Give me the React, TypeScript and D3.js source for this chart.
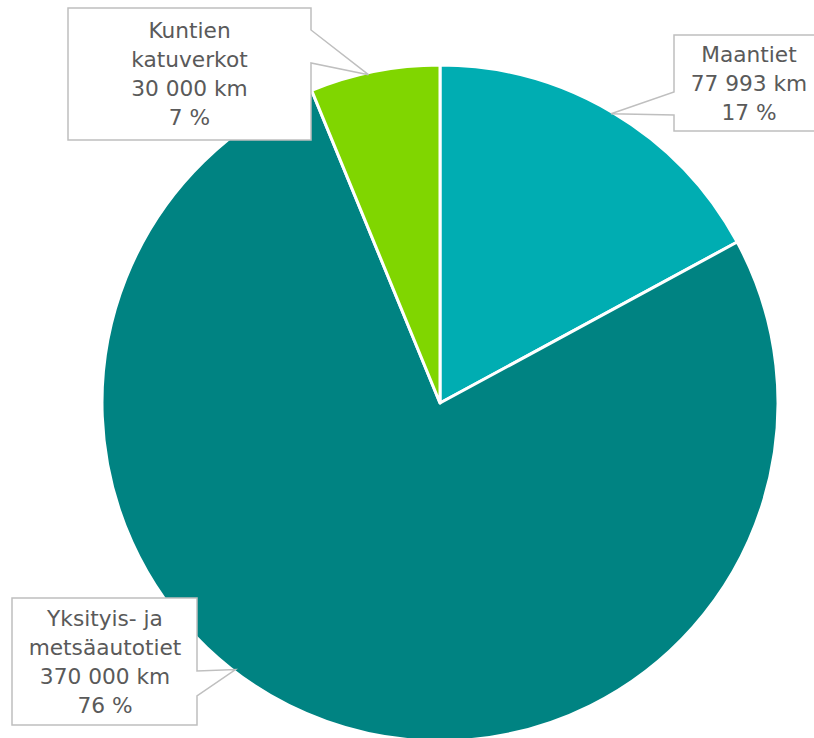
import * as d3 from "d3";
import React, { useEffect, useRef } from "react";

// slice shares (degrees of the pie / 3.6)
const categories = ["Maantiet", "Yksityis- ja metsäautotiet", "Kuntien katuverkot"];
const shares = [17.1, 76.7, 6.2];
const labelLines = [
  ["Maantiet", "77 993 km", "17 %"],
  ["Yksityis- ja", "metsäautotiet", "370 000 km", "76 %"],
  ["Kuntien", "katuverkot", "30 000 km", "7 %"],
];
const colors = ["#00adb2", "#008382", "#80d600"];

const W = 814;
const H = 738;
const cx = 440;
const cy = 403;
const R = 338;

// callout boxes: [x0, y0, x1, y1], pointer side, pointer y range, tip angle (deg from top)
const boxes = [
  { box: [674, 35, 824, 131], side: "left", py: [92, 115], tipAngle: 30.6, tx: 749 },
  { box: [12, 598, 197, 725], side: "right", py: [671, 696], tipAngle: 217.5, tx: 105 },
  { box: [68, 8, 311, 140], side: "right", py: [30, 63], tipAngle: 347.7, tx: 189.5 },
];

const App = () => {
  const ref = useRef<SVGSVGElement>(null);

  useEffect(() => {
    const svg = d3.select(ref.current);
    svg.selectAll("*").remove();

    const pie = d3.pie<number>().sort(null).value((d) => d);
    const arcs = pie(shares);
    const arc = d3.arc<d3.PieArcDatum<number>>().innerRadius(0).outerRadius(R);

    const g = svg.append("g").attr("transform", `translate(${cx},${cy})`);
    g.selectAll("path")
      .data(arcs)
      .enter()
      .append("path")
      .attr("d", arc)
      .attr("fill", (d, i) => colors[i])
      .attr("stroke", "#fff")
      .attr("stroke-width", 3)
      .attr("stroke-linejoin", "round");

    boxes.forEach((b, i) => {
      const a = (b.tipAngle * Math.PI) / 180;
      const tx = cx + (R - 2) * Math.sin(a);
      const ty = cy - (R - 2) * Math.cos(a);
      const [x0, y0, x1, y1] = b.box;
      let p = "";
      if (b.side === "right") {
        p = `M${x0},${y0}H${x1}V${b.py[0]}L${tx},${ty}L${x1},${b.py[1]}V${y1}H${x0}Z`;
      } else {
        p = `M${x0},${y0}H${x1}V${y1}H${x0}V${b.py[1]}L${tx},${ty}L${x0},${b.py[0]}Z`;
      }
      svg.append("path")
        .attr("d", p)
        .attr("fill", "#fff")
        .attr("stroke", "#bfbfbf")
        .attr("stroke-width", 1.5);

      const lines = labelLines[i];
      const lh = 29;
      const midY = (y0 + y1) / 2;
      const t = svg.append("text")
        .attr("text-anchor", "middle")
        .attr("font-family", "'DejaVu Sans', Verdana, sans-serif")
        .attr("font-size", 21.7)
        .attr("fill", "#5a5a5a");
      lines.forEach((l, j) => {
        t.append("tspan")
          .attr("x", b.tx)
          .attr("y", midY + (j - (lines.length - 1) / 2) * lh)
          .attr("dy", "0.36em")
          .text(l);
      });
    });
  }, []);

  return (
    <svg
      ref={ref}
      width={W}
      height={H}
      style={{ position: "absolute", left: 0, top: 0 }}
    />
  );
};

export default App;
